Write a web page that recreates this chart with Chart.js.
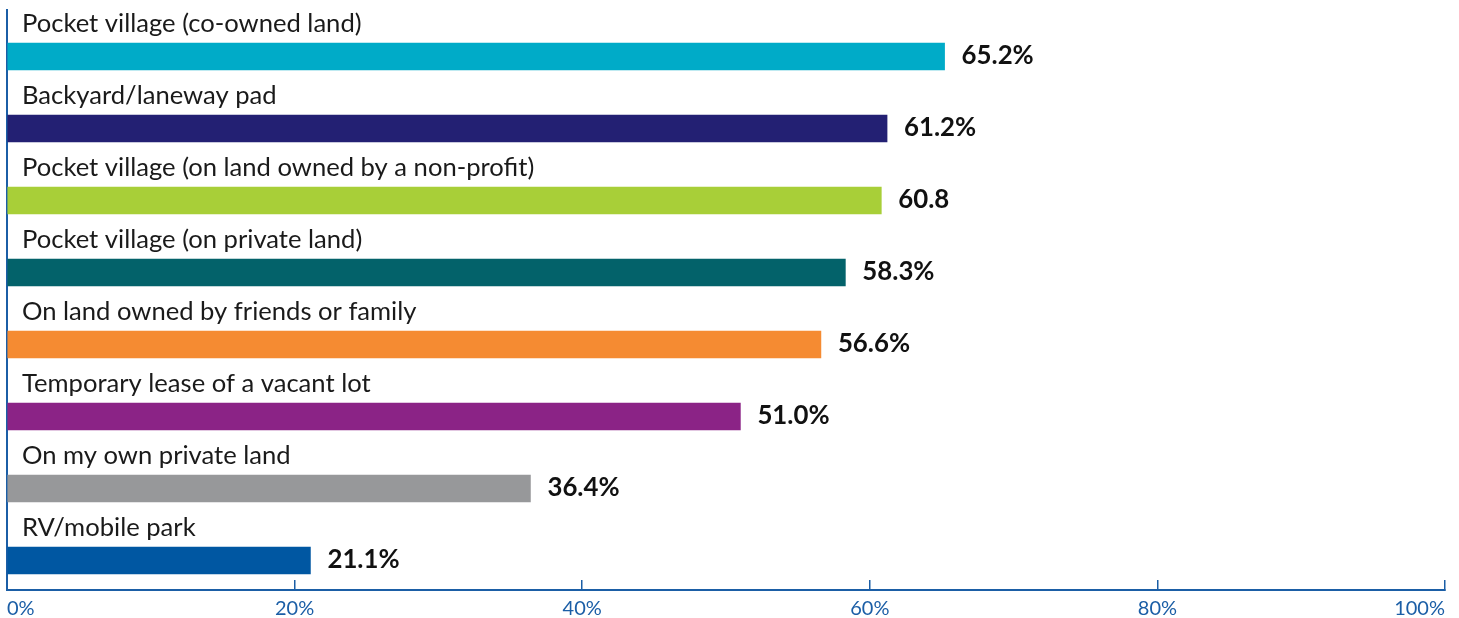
<!DOCTYPE html>
<html>
<head>
<meta charset="utf-8">
<script src="https://cdn.jsdelivr.net/npm/chart.js@4/dist/chart.umd.min.js"></script>
<style>
  html, body { margin: 0; padding: 0; background: #fff; }
  #wrap { width: 1459px; height: 618px; position: relative; }
</style>
</head>
<body>
<div id="wrap"><canvas id="chart"></canvas></div>
<script>
const categories = [
    'Pocket village (co-owned land)',
    'Backyard/laneway pad',
    'Pocket village (on land owned by a non-profit)',
    'Pocket village (on private land)',
    'On land owned by friends or family',
    'Temporary lease of a vacant lot',
    'On my own private land',
    'RV/mobile park'
];
const values = [65.2, 61.2, 60.8, 58.3, 56.6, 51.0, 36.4, 21.1];
const valueLabels = ['65.2%', '61.2%', '60.8', '58.3%', '56.6%', '51.0%', '36.4%', '21.1%'];
const barColors = ['#00abc8', '#232073', '#a8cf38', '#03626a', '#f58b32', '#8b2386', '#97989a', '#0057a2'];
const xTicks = [0, 20, 40, 60, 80, 100];

const axisBlue = '#1b5ea6';
const fontFamily = 'Lato, "Open Sans", sans-serif';

const barLabelsPlugin = {
    id: 'barLabels',
    afterDatasetsDraw(chart) {
        const ctx = chart.ctx;
        const meta = chart.getDatasetMeta(0);
        ctx.save();
        meta.data.forEach((bar, i) => {
            // category name above the bar
            ctx.font = '25.6px ' + fontFamily;
            ctx.fillStyle = '#1a1a1a';
            ctx.textAlign = 'left';
            ctx.textBaseline = 'alphabetic';
            ctx.fillText(categories[i], chart.chartArea.left + 15, bar.y - 24.5);
            // value to the right
            ctx.font = 'bold 25.8px ' + fontFamily;
            ctx.fillStyle = '#111';
            ctx.fillText(valueLabels[i], bar.x + 17, bar.y + 7.5);
        });
        ctx.restore();
    }
};

new Chart(document.getElementById('chart'), {
    type: 'bar',
    data: {
        datasets: [{
            data: values.map((v, i) => ({ x: v, y: i })),
            backgroundColor: barColors,
            borderWidth: 0,
            barThickness: 27
        }]
    },
    options: {
        indexAxis: 'y',
        responsive: true,
        maintainAspectRatio: false,
        animation: false,
        layout: { padding: { left: 7, right: 14, top: 10, bottom: 0 } },
        plugins: {
            legend: { display: false },
            tooltip: { enabled: false }
        },
        scales: {
            x: {
                type: 'linear',
                min: 0,
                max: 100,
                afterBuildTicks: (scale) => {
                    scale.ticks = xTicks.map(v => ({ value: v }));
                },
                afterFit: (scale) => {
                    scale.height = 28;
                    scale.paddingLeft = 0;
                    scale.paddingRight = 0;
                },
                ticks: {
                    align: 'inner',
                    padding: 17,
                    color: axisBlue,
                    font: { family: fontFamily, size: 20 },
                    callback: (v) => v + '%'
                },
                grid: {
                    drawOnChartArea: false,
                    tickLength: -10,
                    color: axisBlue,
                    lineWidth: 1.5
                },
                border: { color: axisBlue, width: 2 }
            },
            y: {
                type: 'linear',
                reverse: true,
                offset: false,
                min: -0.646,
                max: 7.41,
                afterFit: (scale) => {
                    scale.width = 0;
                    scale.paddingTop = 0;
                    scale.paddingBottom = 0;
                },
                ticks: { display: false, padding: 0 },
                grid: { display: false },
                border: { color: axisBlue, width: 2 }
            }
        }
    },
    plugins: [barLabelsPlugin]
});
</script>
</body>
</html>
